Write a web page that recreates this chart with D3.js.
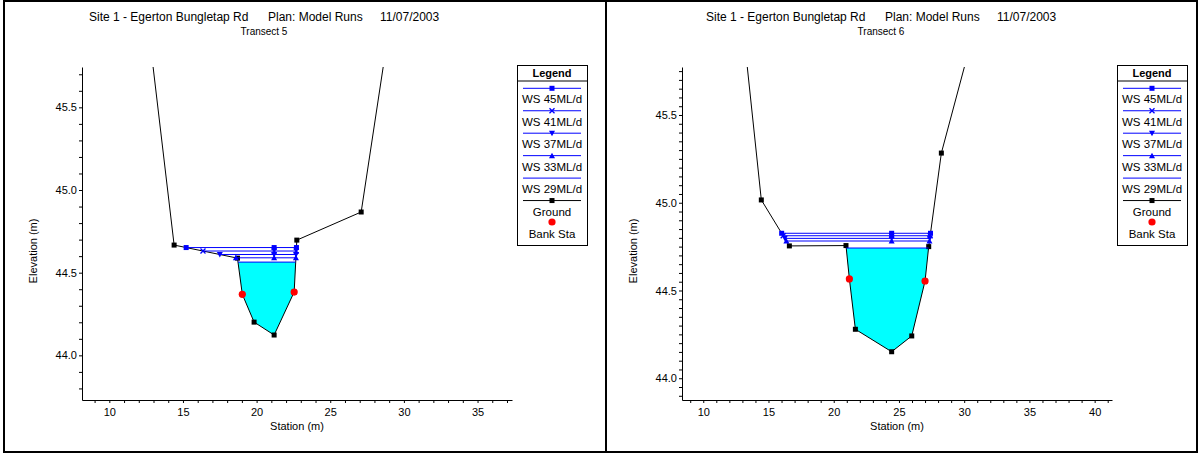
<!DOCTYPE html>
<html>
<head>
<meta charset="utf-8"/>
<title>Transects</title>
<style>
  body { margin: 0; background: #fff; }
  svg text { font-family: "Liberation Sans", Arial, sans-serif; fill: #000; }
</style>
</head>
<body>
<div id="chart"></div>
<script src="https://cdn.jsdelivr.net/npm/d3@7/dist/d3.min.js"></script>
<script>
// profile names and their markers
var wsNames = ["WS 45ML/d", "WS 41ML/d", "WS 37ML/d", "WS 33ML/d", "WS 29ML/d"];
var wsSymbols = ["square", "cross", "triDown", "triUp", "none"];

// Transect 5 ground (station, elevation), bank stations and water surfaces
var sta5  = [12.5, 14.40, 18.70, 19.03, 19.83, 21.19, 22.55, 22.73, 27.10, 29.2];
var elev5 = [46.1, 44.667, 44.588, 44.369, 44.201, 44.123, 44.383, 44.697, 44.867, 46.1];
var bank5 = [19.03, 22.55];
var ws5   = [44.652, 44.631, 44.610, 44.590, 44.564];

// Transect 6
var sta6  = [12.91, 14.45, 16.60, 20.94, 21.20, 21.66, 24.44, 25.98, 27.00, 27.28, 28.25, 31.19];
var elev6 = [46.1, 45.016, 44.754, 44.756, 44.566, 44.279, 44.151, 44.241, 44.554, 44.750, 45.283, 46.1];
var bank6 = [21.20, 27.00];
var ws6   = [44.826, 44.812, 44.797, 44.782, 44.742];

var W = 1199, H = 453;
var svg = d3.select("#chart").append("svg").attr("width", W).attr("height", H);

// find where a water level meets the ground either side of the thalweg
function wsExtent(sta, elev, w) {
  var i0 = d3.minIndex(elev), left = sta[0], right = sta[sta.length - 1], li = 0, ri = sta.length - 1;
  for (var i = i0; i > 0; i--) {
    if (elev[i - 1] >= w) {
      left = sta[i - 1] + (w - elev[i - 1]) / (elev[i] - elev[i - 1]) * (sta[i] - sta[i - 1]);
      li = i; break;
    }
  }
  for (var j = i0; j < sta.length - 1; j++) {
    if (elev[j + 1] >= w) {
      right = sta[j] + (w - elev[j]) / (elev[j + 1] - elev[j]) * (sta[j + 1] - sta[j]);
      ri = j; break;
    }
  }
  return {left: left, right: right, li: li, ri: ri, mid: sta[i0]};
}

function drawSymbol(g, type, x, y, color) {
  if (type === "square") {
    g.append("rect").attr("x", x - 2.5).attr("y", y - 2.5).attr("width", 5).attr("height", 5).attr("fill", color);
  } else if (type === "cross") {
    g.append("path").attr("d", "M" + (x - 2.5) + "," + (y - 2.5) + "L" + (x + 2.5) + "," + (y + 2.5) +
      "M" + (x + 2.5) + "," + (y - 2.5) + "L" + (x - 2.5) + "," + (y + 2.5))
      .attr("stroke", color).attr("stroke-width", 1.3);
  } else if (type === "triDown") {
    g.append("path").attr("d", "M" + (x - 3) + "," + (y - 2.5) + "L" + (x + 3) + "," + (y - 2.5) + "L" + x + "," + (y + 3) + "Z").attr("fill", color);
  } else if (type === "triUp") {
    g.append("path").attr("d", "M" + (x - 3) + "," + (y + 2.5) + "L" + (x + 3) + "," + (y + 2.5) + "L" + x + "," + (y - 3) + "Z").attr("fill", color);
  } else if (type === "ground") {
    g.append("rect").attr("x", x - 2.5).attr("y", y - 2.5).attr("width", 5).attr("height", 5).attr("fill", "#000");
  } else if (type === "bank") {
    g.append("circle").attr("cx", x).attr("cy", y).attr("r", 3.6).attr("fill", "#ff0000");
  }
}

function panel(cfg) {
  var ox = cfg.ox;
  // panel frame
  svg.append("rect").attr("x", cfg.frame[0]).attr("y", 1).attr("width", cfg.frame[1] - cfg.frame[0]).attr("height", H - 2)
    .attr("fill", "none").attr("stroke", "#000").attr("stroke-width", 2);

  // titles
  var t = svg.append("text").attr("y", 21).attr("font-size", 12).attr("text-anchor", "start");
  t.append("tspan").attr("x", cfg.tx).text("Site 1 - Egerton Bungletap Rd");
  t.append("tspan").attr("x", cfg.tx + 179).text("Plan: Model Runs");
  t.append("tspan").attr("x", cfg.tx + 291).text("11/07/2003");
  svg.append("text").attr("x", cfg.tx + 175).attr("y", 35).attr("font-size", 10)
    .attr("text-anchor", "middle").text(cfg.sub);

  var x = d3.scaleLinear().domain(cfg.xd).range([ox + 82, ox + 512]);
  var y = d3.scaleLinear().domain(cfg.yd).range([400, 67]);

  // axes
  var xt = d3.range(Math.ceil(cfg.xd[0]), cfg.xd[1] + 1e-9, 1);
  var xAxis = d3.axisBottom(x).tickValues(xt).tickSize(3).tickSizeOuter(0).tickPadding(5)
    .tickFormat(function (d) { return d % 5 === 0 ? d : ""; });
  var gx = svg.append("g").attr("transform", "translate(0,400)").call(xAxis);
  gx.selectAll("text").attr("font-size", 11).attr("font-family", null);

  var yt = d3.range(Math.ceil(cfg.yd[0] / cfg.ystep - 1e-9), Math.floor(cfg.yd[1] / cfg.ystep + 1e-9) + 1)
    .map(function (k) { return +(k * cfg.ystep).toFixed(3); });
  var yAxis = d3.axisLeft(y).tickValues(yt).tickSize(3).tickSizeOuter(0).tickPadding(2)
    .tickFormat(function (d) { return Math.abs(d * 2 - Math.round(d * 2)) < 1e-6 ? d3.format(".1f")(d) : ""; });
  var gy = svg.append("g").attr("transform", "translate(" + (ox + 82) + ",0)").call(yAxis);
  gy.selectAll("text").attr("font-size", 11).attr("font-family", null);
  svg.selectAll(".domain").attr("stroke", "#000");

  svg.append("text").attr("x", ox + 297).attr("y", 430).attr("font-size", 11)
    .attr("text-anchor", "middle").text("Station (m)");
  svg.append("text").attr("transform", "translate(" + (ox + 37) + ",251) rotate(-90)")
    .attr("font-size", 11).attr("text-anchor", "middle").text("Elevation (m)");

  // plot area clip
  var cid = "clip" + cfg.id;
  svg.append("clipPath").attr("id", cid).append("rect")
    .attr("x", ox + 82).attr("y", 67).attr("width", 430).attr("height", 333);
  var g = svg.append("g").attr("clip-path", "url(#" + cid + ")");

  var sta = cfg.sta, elev = cfg.elev;
  var ground = sta.map(function (s, i) { return [s, elev[i]]; });

  // water fill at the lowest profile
  var low = cfg.ws[cfg.ws.length - 1];
  var e = wsExtent(sta, elev, low);
  var poly = [[e.left, low]];
  for (var i = e.li; i <= e.ri; i++) if (elev[i] < low) poly.push([sta[i], elev[i]]);
  poly.push([e.right, low]);
  g.append("path").datum(poly)
    .attr("d", d3.line().x(function (d) { return x(d[0]); }).y(function (d) { return y(d[1]); }).curve(d3.curveLinearClosed))
    .attr("fill", "#00ffff");

  var line = d3.line().x(function (d) { return x(d[0]); }).y(function (d) { return y(d[1]); });

  // ground
  g.append("path").datum(ground).attr("d", line).attr("fill", "none").attr("stroke", "#000").attr("stroke-width", 1);
  ground.forEach(function (p) { drawSymbol(g, "ground", x(p[0]), y(p[1])); });

  // water surfaces
  cfg.ws.forEach(function (w, k) {
    var ex = wsExtent(sta, elev, w);
    g.append("line").attr("x1", x(ex.left)).attr("x2", x(ex.right)).attr("y1", y(w)).attr("y2", y(w))
      .attr("stroke", "#0000ff").attr("stroke-width", 1);
    if (wsSymbols[k] !== "none") {
      [ex.left, ex.mid, ex.right].forEach(function (s) { drawSymbol(g, wsSymbols[k], x(s), y(w), "#0000ff"); });
    }
  });

  // bank stations
  cfg.bank.forEach(function (b) {
    var idx = sta.indexOf(b);
    drawSymbol(g, "bank", x(b), y(elev[idx]));
  });

  // legend
  var lx = ox + 517, lw = 70, lc = lx + lw / 2;
  var lg = svg.append("g");
  lg.append("rect").attr("x", lx + 0.5).attr("y", 65.5).attr("width", lw).attr("height", 180)
    .attr("fill", "#fff").attr("stroke", "#000");
  lg.append("text").attr("x", lc).attr("y", 77).attr("font-size", 11).attr("font-weight", "bold")
    .attr("text-anchor", "middle").text("Legend");
  lg.append("line").attr("x1", lx).attr("x2", lx + lw).attr("y1", 81).attr("y2", 81).attr("stroke", "#000");
  var items = wsNames.concat(["Ground", "Bank Sta"]);
  items.forEach(function (name, k) {
    var ly = 88.3 + k * 22.45;
    if (k < 5) {
      lg.append("line").attr("x1", lx + 6).attr("x2", lx + 64).attr("y1", ly).attr("y2", ly)
        .attr("stroke", "#0000ff");
      if (wsSymbols[k] !== "none") drawSymbol(lg, wsSymbols[k], lc, ly, "#0000ff");
    } else if (k === 5) {
      lg.append("line").attr("x1", lx + 6).attr("x2", lx + 64).attr("y1", ly).attr("y2", ly).attr("stroke", "#000");
      drawSymbol(lg, "ground", lc, ly);
    } else {
      drawSymbol(lg, "bank", lc, ly - 1);
    }
    lg.append("text").attr("x", lc).attr("y", ly + 15).attr("font-size", 11.5)
      .attr("text-anchor", "middle").text(name);
  });
}

panel({id: 5, ox: 0, frame: [4, 606], tx: 89, sub: "Transect 5",
  xd: [8.145, 37.34], yd: [43.73, 45.744], ystep: 0.1,
  sta: sta5, elev: elev5, bank: bank5, ws: ws5});
panel({id: 6, ox: 600, frame: [606, 1197], tx: 706, sub: "Transect 6",
  xd: [8.37, 41.33], yd: [43.876, 45.7735], ystep: 0.05,
  sta: sta6, elev: elev6, bank: bank6, ws: ws6});
</script>
</body>
</html>
